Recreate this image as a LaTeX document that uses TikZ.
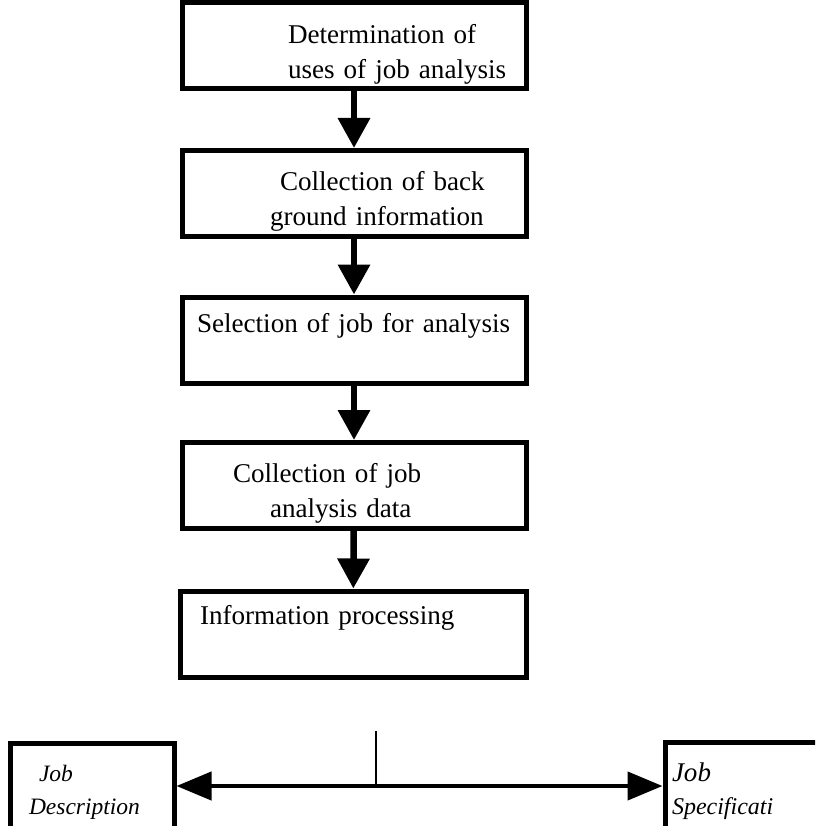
\documentclass[tikz,border=0pt]{standalone}
\usepackage{fontspec}
\setmainfont{Liberation Serif}
\usetikzlibrary{arrows.meta}

\newcommand{\padtop}{\rule{0pt}{35pt}}
\newcommand{\padbot}[1]{\rule[-#1]{0pt}{20pt}}

\tikzset{
  stepbox/.style={draw, line width=5pt, minimum width=344pt, minimum height=86pt,
    text width=344pt, inner xsep=0pt, inner ysep=0pt, align=left,
    font=\fontsize{27.1}{35}\selectfont},
  outbox/.style={draw, line width=5pt, minimum height=98pt,
    inner xsep=0pt, inner ysep=0pt, align=left},
  flow/.style={line width=6.5pt, -{Triangle[width=31pt,length=30pt]}},
  branch/.style={line width=4.3pt, -{Triangle[width=28pt,length=35pt]}}
}

\begin{document}
\begin{tikzpicture}[x=1pt,y=-1pt]
        \useasboundingbox (0,0) rectangle (815,826);
        \clip (0,0) rectangle (815,826);

        \node[stepbox] (uses) at (354,46) {\hspace*{106pt}\padtop Determination of\\\hspace*{106pt}uses of job analysis};
        \node[stepbox] (back) at (354,193.5) {\hspace*{98pt}\padtop Collection of back\\\hspace*{88pt}ground information};
        \node[stepbox] (select) at (354,340) {\hspace*{15pt}\padbot{34pt}Selection of job for analysis};
        \node[stepbox] (data) at (354,485.5) {\hspace*{51pt}\padtop Collection of job\\\hspace*{88pt}analysis data};
        \node[stepbox, minimum width=346pt, text width=346pt] (proc) at (353,634) {\hspace*{20pt}\padbot{38pt}Information processing};

        \draw[flow] (uses) -- (back);
        \draw[flow] (back) -- (select);
        \draw[flow] (select) -- (data);
        \draw[flow] (data) -- (proc);

        % bottom row, both boxes run off the page
        \node[outbox, minimum width=164pt, text width=164pt, font=\itshape\fontsize{23.5}{33}\selectfont] (desc) at (92,792) {\hspace*{29pt}Job\\\hspace*{19pt}Description};
        \node[outbox, minimum width=215pt, text width=215pt, font=\itshape\fontsize{24}{33}\selectfont] (spec) at (772.5,791) {\hspace*{7pt}{\fontsize{27}{33}\selectfont Job}\\\hspace*{7pt}Specificati};

        \coordinate (fork) at (376,731);
        \coordinate (meet) at (376,786);
        \draw[line width=2.7pt] (fork) -- (meet);
        \draw[branch] (meet) -- (meet -| desc.east);
        \draw[branch] (meet) -- (meet -| spec.west);
    \end{tikzpicture}
\end{document}
